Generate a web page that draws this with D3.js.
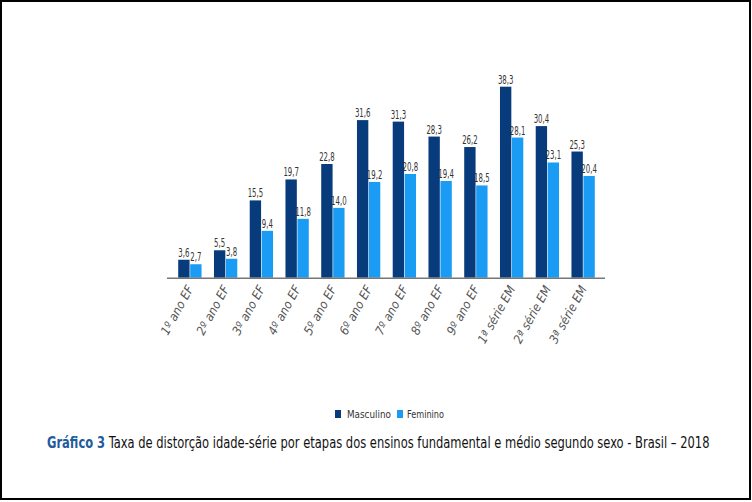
<!DOCTYPE html>
<html>
<head>
<meta charset="utf-8">
<script src="https://cdn.jsdelivr.net/npm/d3@7"></script>
<style>
  html, body { margin: 0; padding: 0; background: #fff; }
  svg { display: block; }
  text { font-family: 'DejaVu Sans Condensed', 'DejaVu Sans', sans-serif; font-stretch: condensed; }
</style>
</head>
<body>
<svg id="chart" width="752" height="502"></svg>
<script>
const categories = ["1º ano EF","2º ano EF","3º ano EF","4º ano EF","5º ano EF","6º ano EF","7º ano EF","8º ano EF","9º ano EF","1ª série EM","2ª série EM","3ª série EM"];
const masculino = [3.6, 5.5, 15.5, 19.7, 22.8, 31.6, 31.3, 28.3, 26.2, 38.3, 30.4, 25.3];
const feminino  = [2.7, 3.8, 9.4, 11.8, 14.0, 19.2, 20.8, 19.4, 18.5, 28.1, 23.1, 20.4];
const seriesNames = ["Masculino", "Feminino"];
const colors = ["#073b7b", "#1a9cf4"];
const titleBold = "Gráfico 3";
const titleRest = " Taxa de distorção idade-série por etapas dos ensinos fundamental e médio segundo sexo - Brasil – 2018";

const svg = d3.select("#chart");

// border
svg.append("rect").attr("x", 1).attr("y", 1).attr("width", 749).attr("height", 498)
  .attr("fill", "none").attr("stroke", "#000").attr("stroke-width", 2);

const baseY = 277.7;
const x0 = d3.scaleBand().domain(categories).range([172, 601]).paddingInner(0).paddingOuter(0);
const x1 = d3.scaleBand().domain(seriesNames).range([0, x0.bandwidth()]).paddingInner(0.05).paddingOuter(0.52);
const y = d3.scaleLinear().domain([0, 38.3]).range([baseY, 86.7]);

const data = categories.map((c, i) => ({ cat: c, vals: [masculino[i], feminino[i]] }));
const fmt = v => d3.format(".1f")(v).replace(".", ",");

function hscale(sel, s) {
  sel.each(function () {
    const el = d3.select(this);
    const cx = +el.attr("x");
    el.attr("transform", `translate(${cx},0) scale(${s},1) translate(${-cx},0)`);
  });
}
function squeeze(sel, target) {
  sel.each(function () {
    const w = this.getComputedTextLength();
    if (w > 0) hscale(d3.select(this), target / w);
  });
}

const g = svg.append("g");
const groups = g.selectAll("g.grp").data(data).join("g")
  .attr("transform", d => `translate(${x0(d.cat)},0)`);

groups.selectAll("rect").data(d => d.vals.map((v, k) => ({ v, k })))
  .join("rect")
  .attr("x", d => x1(seriesNames[d.k]))
  .attr("width", x1.bandwidth())
  .attr("y", d => y(d.v))
  .attr("height", d => baseY - y(d.v))
  .attr("fill", d => colors[d.k]);

const vals = groups.selectAll("text.val").data(d => d.vals.map((v, k) => ({ v, k })))
  .join("text")
  .attr("class", "val")
  .attr("x", d => x1(seriesNames[d.k]) + x1.bandwidth() / 2)
  .attr("y", d => y(d.v) - 3)
  .attr("text-anchor", "middle")
  .attr("font-size", 12)
  .attr("fill", "#333")
  .text(d => fmt(d.v));
let ref = 0;
vals.each(function (d) { if (fmt(d.v).length === 4) ref = Math.max(ref, this.getComputedTextLength()); });
if (ref > 0) hscale(vals, 15.5 / ref);

// axis baseline
svg.append("line").attr("x1", 167).attr("x2", 605).attr("y1", baseY + 0.5).attr("y2", baseY + 0.5)
  .attr("stroke", "#777").attr("stroke-width", 1.5);

// x labels
svg.append("g").selectAll("text").data(categories).join("text")
  .attr("transform", d => `translate(${x0(d) + x0.bandwidth() / 2 + 4},${baseY + 11}) rotate(-61)`)
  .attr("text-anchor", "end")
  .attr("font-style", "italic")
  .attr("font-size", 12.5)
  .attr("fill", "#555")
  .text(d => d);

// legend
const legend = svg.append("g");
const legItems = [{ name: "Masculino", x: 335, tx: 347, w: 44 }, { name: "Feminino", x: 397, tx: 407, w: 37 }];
legItems.forEach((it, k) => {
  legend.append("rect").attr("x", it.x).attr("y", 410).attr("width", 6).attr("height", 8).attr("fill", colors[k]);
  const t = legend.append("text").attr("x", it.tx).attr("y", 418)
    .attr("font-size", 10.5).attr("fill", "#333").text(it.name);
  squeeze(t, it.w);
});

// title
const title = svg.append("text").attr("x", 47).attr("y", 448)
  .attr("font-size", 16.5).attr("fill", "#111");
title.append("tspan").attr("font-weight", "bold").attr("fill", "#1f5c9c").text(titleBold);
title.append("tspan").text(titleRest);
squeeze(title, 663);
</script>
</body>
</html>
